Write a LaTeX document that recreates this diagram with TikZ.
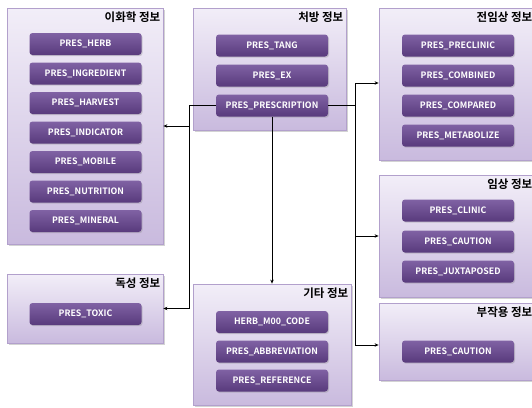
\documentclass[tikz,border=0pt]{standalone}
\usepackage{fontspec}
\setmainfont{Noto Sans CJK KR}
\newfontfamily\krbold{Noto Sans CJK KR Bold}
\usepackage{tikz}
\usetikzlibrary{arrows.meta, calc, shadows}

\definecolor{panelTop}{RGB}{242,238,248}
\definecolor{panelBot}{RGB}{201,186,222}
\definecolor{panelLine}{RGB}{178,160,204}
\definecolor{btnTop}{RGB}{128,98,164}
\definecolor{btnBot}{RGB}{88,58,124}

\tikzset{
    panel/.style={draw=panelLine, line width=0.8pt, top color=panelTop, bottom color=panelBot,
        drop shadow={shadow xshift=1.5pt, shadow yshift=-1.5pt, opacity=0.35}, inner sep=0pt},
    ptitle/.style={anchor=north east, xshift=-2pt, yshift=-3pt, inner sep=1pt,
        font=\fontsize{11.5}{13}\krbold},
    btn/.style={rounded corners=3pt, top color=btnTop, bottom color=btnBot, text=white,
        minimum width=112pt, minimum height=22pt, inner sep=0pt,
        drop shadow={shadow xshift=1pt, shadow yshift=-1.2pt, opacity=0.3},
        font=\fontsize{8.8}{10}\krbold},
    link/.style={line width=0.9pt, -{Stealth[length=4pt, width=3.5pt]}}
}

\begin{document}
\begin{tikzpicture}[x=1pt, y=-1pt]
    \useasboundingbox (0,0) rectangle (532,407);
    \node[panel, minimum width=156pt, minimum height=236pt] (phys) at (85,126) {};
    \node[panel, minimum width=153pt, minimum height=122pt] (presc) at (269.5,69) {};
    \node[panel, minimum width=156pt, minimum height=152pt] (precl) at (457,84) {};
    \node[panel, minimum width=156pt, minimum height=122pt] (clin) at (457,236) {};
    \node[panel, minimum width=156pt, minimum height=77pt] (side) at (457,341.5) {};
    \node[panel, minimum width=156pt, minimum height=69pt] (toxic) at (85,308.5) {};
    \node[panel, minimum width=158pt, minimum height=121pt] (misc) at (272,344.5) {};

    \node[ptitle] (physT) at (phys.north east) {이화학 정보};
    \node[ptitle] (prescT) at (presc.north east) {처방 정보};
    \node[ptitle] (preclT) at (precl.north east) {전임상 정보};
    \node[ptitle] (clinT) at (clin.north east) {임상 정보};
    \node[ptitle] (sideT) at (side.north east) {부작용 정보};
    \node[ptitle] (toxicT) at (toxic.north east) {독성 정보};
    \node[ptitle] (miscT) at (misc.north east) {기타 정보};

    \node[btn] (herb) at (85.5,44) {PRES\_HERB};
    \node[btn] (ingredient) at (85.5,73.5) {PRES\_INGREDIENT};
    \node[btn] (harvest) at (85.5,103) {PRES\_HARVEST};
    \node[btn] (indicator) at (85.5,132.5) {PRES\_INDICATOR};
    \node[btn] (mobile) at (85.5,162) {PRES\_MOBILE};
    \node[btn] (nutrition) at (85.5,191.5) {PRES\_NUTRITION};
    \node[btn] (mineral) at (85.5,221) {PRES\_MINERAL};

    \node[btn] (tang) at (272,45.5) {PRES\_TANG};
    \node[btn] (ex) at (272,75.5) {PRES\_EX};
    \node[btn] (prescription) at (272,105.5) {PRES\_PRESCRIPTION};

    \node[btn] (preclinic) at (458,45.5) {PRES\_PRECLINIC};
    \node[btn] (combined) at (458,75.5) {PRES\_COMBINED};
    \node[btn] (compared) at (458,105.5) {PRES\_COMPARED};
    \node[btn] (metabolize) at (458,135.5) {PRES\_METABOLIZE};

    \node[btn] (clinic) at (458,210.5) {PRES\_CLINIC};
    \node[btn] (caution) at (458,241.5) {PRES\_CAUTION};
    \node[btn] (juxtaposed) at (458,271.5) {PRES\_JUXTAPOSED};

    \node[btn] (sidecaution) at (458,351.5) {PRES\_CAUTION};

    \node[btn] (toxicbtn) at (85.5,314) {PRES\_TOXIC};

    \node[btn] (m00code) at (272,322) {HERB\_M00\_CODE};
    \node[btn] (abbreviation) at (272,351.5) {PRES\_ABBREVIATION};
    \node[btn] (reference) at (272,380.5) {PRES\_REFERENCE};

    \coordinate (jl) at (189,105.5);
    \coordinate (jr) at (355,105.5);
    \draw[link] (prescription.west) -- (jl) |- (toxic.east);
    \draw[link] (jl) |- (phys.east);
    \draw[link] (prescription.south) -- (misc.north);
    \draw[link] (prescription.east) -- (jr) |- ([yshift=1pt]precl.west);
    \draw[link] (jr) |- (clin.west);
    \draw[link] (jr) |- ([yshift=-3.5pt]side.west);
\end{tikzpicture}
\end{document}
